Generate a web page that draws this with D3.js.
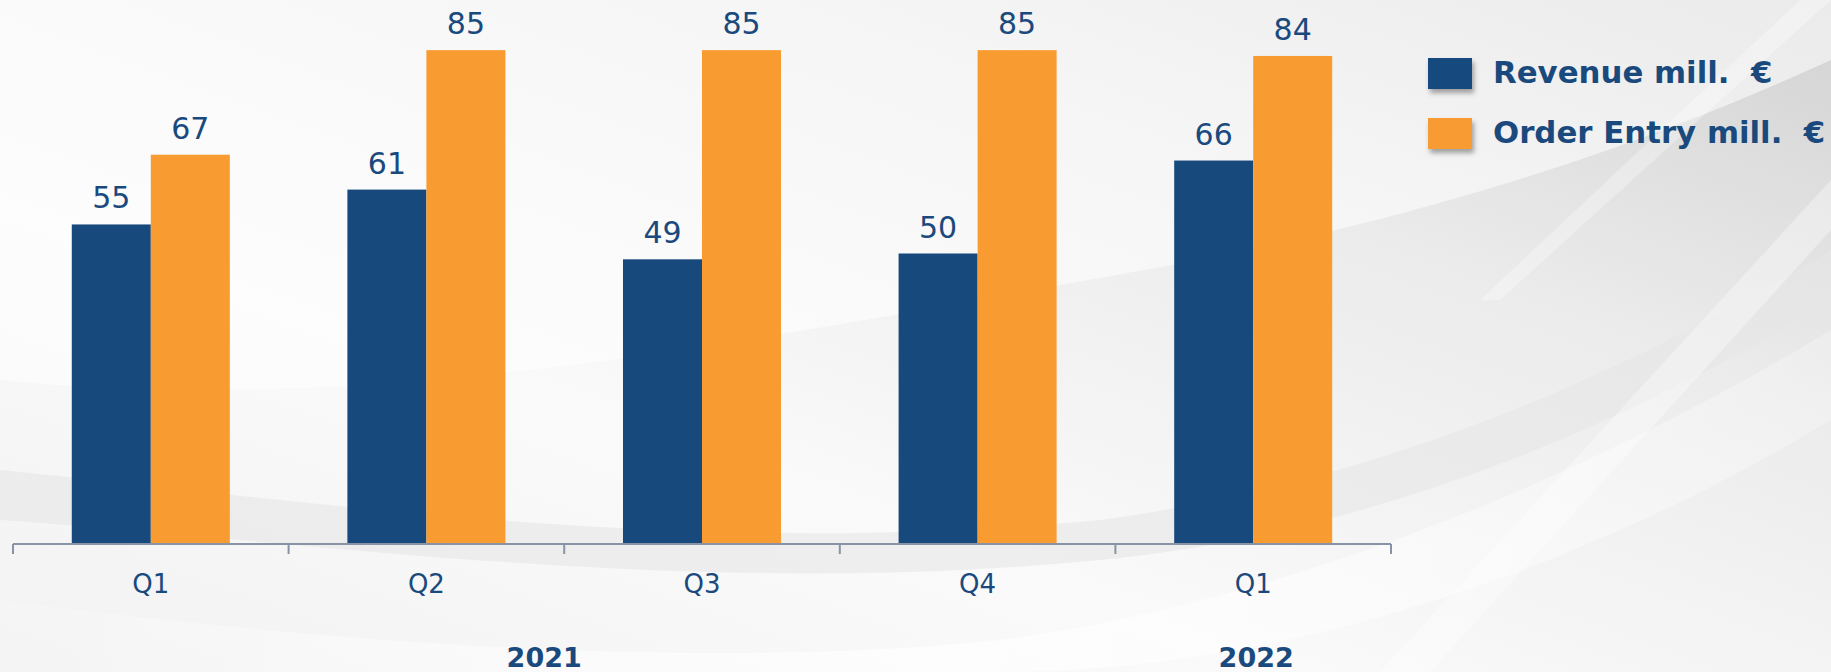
<!DOCTYPE html>
<html>
<head>
<meta charset="utf-8">
<script src="https://cdn.jsdelivr.net/npm/d3@7"></script>
<style>
  html, body { margin: 0; padding: 0; background: #fff; }
  svg { display: block; }
</style>
</head>
<body>
<svg id="chart" width="1831" height="672"></svg>
<script>
const categories = ["Q1", "Q2", "Q3", "Q4", "Q1"];
const years = ["2021", "2021", "2021", "2021", "2022"];
const yearLabels = ["2021", "2022"];
const revenue = [55, 61, 49, 50, 66];
const orderEntry = [67, 85, 85, 85, 84];
const seriesNames = ["Revenue mill.  €", "Order Entry mill.  €"];

const W = 1831, H = 672;
const BLUE = "#17497d", ORANGE = "#f89b31", TEXT = "#1a4a7d";
const svg = d3.select("#chart");
const defs = svg.append("defs");

// background
const bg = defs.append("linearGradient").attr("id", "bg").attr("x1", 0).attr("y1", 1).attr("x2", 1).attr("y2", 0);
bg.append("stop").attr("offset", "0").attr("stop-color", "#f2f2f2");
bg.append("stop").attr("offset", "0.35").attr("stop-color", "#fafafa");
bg.append("stop").attr("offset", "0.7").attr("stop-color", "#ebebeb");
bg.append("stop").attr("offset", "1").attr("stop-color", "#d2d2d2");
svg.append("rect").attr("width", W).attr("height", H).attr("fill", "url(#bg)");
const wg = defs.append("linearGradient").attr("id", "wg").attr("x1", 0).attr("y1", 0).attr("x2", 1).attr("y2", 0);
wg.append("stop").attr("offset", "0").attr("stop-color", "#fff").attr("stop-opacity", 0.2);
wg.append("stop").attr("offset", "0.5").attr("stop-color", "#fff").attr("stop-opacity", 0.9);
wg.append("stop").attr("offset", "1").attr("stop-color", "#fff").attr("stop-opacity", 0.3);
const swoosh = svg.append("g");
swoosh.append("path").attr("d", "M0,380 C400,420 800,330 1200,260 C1500,200 1700,120 1831,60 L1831,0 L0,0 Z").attr("fill", "#ffffff").attr("opacity", 0.55);
swoosh.append("path").attr("d", "M0,600 C300,640 700,672 1000,640 C1300,600 1600,470 1831,330 L1831,420 C1600,560 1300,672 1000,672 L0,672 Z").attr("fill", "url(#wg)").attr("opacity", 0.8);
swoosh.append("path").attr("d", "M0,470 C300,500 700,560 1100,520 C1400,480 1650,360 1831,250 L1831,300 C1650,410 1400,530 1100,560 C700,600 300,540 0,520 Z").attr("fill", "#e6e6e6").attr("opacity", 0.6);
swoosh.append("path").attr("d", "M1380,672 L1831,180 L1831,230 L1430,672 Z").attr("fill", "#ffffff").attr("opacity", 0.35);
swoosh.append("path").attr("d", "M1500,300 L1831,0 L1800,0 L1480,300 Z").attr("fill", "#ffffff").attr("opacity", 0.3);

// scales
const baseY = 544;
const x = d3.scaleBand().domain(d3.range(categories.length)).range([13, 1391]).paddingInner(0).paddingOuter(0);
const x1 = d3.scaleBand().domain([0, 1]).range([0, x.bandwidth()]).paddingInner(0).paddingOuter(0.744);
const y = d3.scaleLinear().domain([0, 100]).range([baseY, baseY - 581]);

const series = [revenue, orderEntry];
const colors = [BLUE, ORANGE];

const g = svg.append("g");
series.forEach((vals, s) => {
  g.selectAll(".bar" + s).data(vals).join("rect")
    .attr("x", (d, i) => x(i) + x1(s))
    .attr("y", d => y(d))
    .attr("width", x1.bandwidth())
    .attr("height", d => y(0) - y(d))
    .attr("fill", colors[s]);
  g.selectAll(".lab" + s).data(vals).join("text")
    .attr("x", (d, i) => x(i) + x1(s) + x1.bandwidth() / 2)
    .attr("y", d => y(d) - 16)
    .attr("text-anchor", "middle")
    .attr("font-family", "'DejaVu Sans', sans-serif")
    .attr("font-size", 30)
    .attr("fill", TEXT)
    .text(d => d);
});

// axis
const axisG = svg.append("g");
axisG.append("line").attr("x1", x.range()[0]).attr("x2", x.range()[1]).attr("y1", baseY).attr("y2", baseY)
  .attr("stroke", "#8a93a6").attr("stroke-width", 2);
const boundaries = d3.range(categories.length).map(i => x(i)).concat([x.range()[1]]);
axisG.selectAll(".tk").data(boundaries).join("line")
  .attr("x1", d => d).attr("x2", d => d).attr("y1", baseY).attr("y2", baseY + 10)
  .attr("stroke", "#8a93a6").attr("stroke-width", 2);
axisG.selectAll(".ql").data(categories).join("text")
  .attr("x", (d, i) => x(i) + x.bandwidth() / 2)
  .attr("y", 593)
  .attr("text-anchor", "middle")
  .attr("font-family", "'DejaVu Sans', sans-serif")
  .attr("font-size", 26)
  .attr("fill", TEXT)
  .text(d => d);

// year labels
const yearOffset = { "2021": -20, "2022": 3 };
yearLabels.forEach(yr => {
  const idx = d3.range(categories.length).filter(i => years[i] === yr);
  const cx = (x(idx[0]) + x(idx[idx.length - 1]) + x.bandwidth()) / 2 + yearOffset[yr];
  svg.append("text")
    .attr("x", cx).attr("y", 667)
    .attr("text-anchor", "middle")
    .attr("font-family", "'DejaVu Sans', sans-serif")
    .attr("font-weight", "bold")
    .attr("font-size", 27)
    .attr("fill", TEXT)
    .text(yr);
});

// legend
const filt = defs.append("filter").attr("id", "sh").attr("x", "-20%").attr("y", "-20%").attr("width", "150%").attr("height", "160%");
filt.append("feDropShadow").attr("dx", 2).attr("dy", 4).attr("stdDeviation", 2.5).attr("flood-color", "#000").attr("flood-opacity", 0.35);
const leg = svg.append("g");
seriesNames.forEach((name, s) => {
  const ly = 58 + s * 60;
  leg.append("rect").attr("x", 1428).attr("y", ly).attr("width", 44).attr("height", 31)
    .attr("fill", colors[s]).attr("filter", "url(#sh)");
  leg.append("text").attr("x", 1493).attr("y", ly + 25)
    .attr("font-family", "'DejaVu Sans', sans-serif")
    .attr("font-weight", "bold")
    .attr("font-size", 30.8)
    .attr("fill", TEXT)
    .attr("xml:space", "preserve")
    .style("white-space", "pre")
    .text(name);
});
</script>
</body>
</html>
